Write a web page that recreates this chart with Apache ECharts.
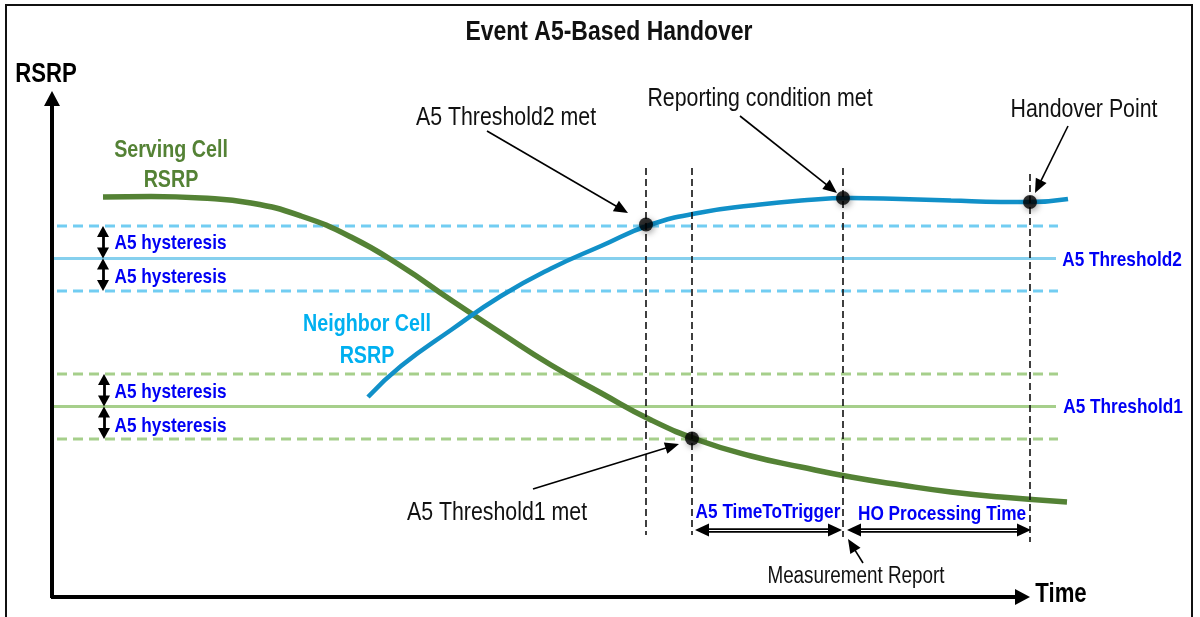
<!DOCTYPE html>
<html><head><meta charset="utf-8">
<script src="https://cdn.jsdelivr.net/npm/echarts@6/dist/echarts.min.js"></script>
<style>html,body{margin:0;padding:0;background:#fff}#c{width:1200px;height:617px}</style>
</head><body><div id="c"></div>
<script>
// ---- data (time / RSRP in arbitrary diagram units) ----
const servingX = [5.2, 10, 15, 20, 25, 30, 35, 40, 45, 50, 55, 60, 65, 70, 75, 80, 85, 90, 95, 101.6];
const servingY = [80.2, 80.3, 80.0, 79.0, 76.4, 72.2, 66.4, 59.6, 53.0, 46.6, 41.0, 35.6, 31.4, 28.4, 26.2, 24.2, 22.6, 21.2, 20.2, 19.2];
const neighborX = [31.7, 35, 40, 45, 50, 55, 60, 65, 70, 75, 80, 85, 90, 95, 97.9, 101.7];
const neighborY = [40.2, 46.4, 53.6, 60.4, 65.9, 70.4, 74.7, 77.1, 78.5, 79.5, 80.0, 79.8, 79.5, 79.2, 79.2, 79.8];
const threshold2 = 67.9;
const threshold1 = 38.3;
const hysteresis = 6.5;
const eventX = [59.5, 64.1, 79.2, 97.9];          // Thr2 met, Thr1 met, report, handover
const eventY = [74.7, 31.9, 80.0, 79.2];
const eventTop = [86.0, 86.0, 86.0, 84.8];
const eventBottom = [12.6, 12.6, 12.2, 11.2];
const thresholdEnd = 100.5;
const spanY = 13.6;
const spanTTT = [64.4, 79.1];
const spanHO = [79.6, 98.0];
const notes = ['A5 Threshold2 met', 'Reporting condition met', 'Handover Point', 'A5 Threshold1 met', 'Measurement Report'];
const noteAt = [[45.5, 96.0], [70.9, 99.8], [103.3, 97.6], [44.6, 17.0], [80.5, 4.2]];
const noteFrom = [[43.6, 93.4], [68.9, 96.4], [101.7, 94.4], [48.2, 21.8], [81.2, 7.0]];
const noteTo = [[57.7, 77.0], [78.6, 81.0], [98.4, 81.0], [62.8, 30.8], [79.7, 11.8]];
const hystLabelY = [71.0, 64.2, 41.2, 34.4];

const FONT = "'Liberation Sans', Arial, sans-serif";
const NARROW = 0.82;
const BLUE = '#0000f5';
const chart = echarts.init(document.getElementById('c'));
const pts = (xs, ys) => xs.map((x, i) => [x, ys[i]]);

chart.setOption({
  animation: false,
  grid: { left: 51, top: 48, width: 1100, height: 550 },
  xAxis: { type: 'value', min: 0, max: 110, show: false },
  yAxis: { type: 'value', min: 0, max: 110, show: false },
  series: []
});
const toPx = p => chart.convertToPixel({ gridIndex: 0 }, p);
const fromPx = p => chart.convertFromPixel({ gridIndex: 0 }, p);

// segment whose arrow tips land exactly on the given points
function arrowSeg(a, b, startSym, endSym, size, style) {
  const pa = toPx(a), pb = toPx(b);
  const dx = pb[0] - pa[0], dy = pb[1] - pa[1];
  const L = Math.hypot(dx, dy), ux = dx / L, uy = dy / L, h = size[1] / 2;
  const qa = startSym === 'none' ? pa : [pa[0] + ux * h, pa[1] + uy * h];
  const qb = endSym === 'none' ? pb : [pb[0] - ux * h, pb[1] - uy * h];
  return [
    { coord: fromPx(qa), symbol: startSym, symbolSize: size, lineStyle: style },
    { coord: fromPx(qb), symbol: endSym, symbolSize: size }
  ];
}

const thrLines = [
  { y: threshold2 + hysteresis, c: '#72cdf2', d: true },
  { y: threshold2, c: '#86d0ee', d: false },
  { y: threshold2 - hysteresis, c: '#72cdf2', d: true },
  { y: threshold1 + hysteresis, c: '#a6cf8b', d: true },
  { y: threshold1, c: '#a6cf8b', d: false },
  { y: threshold1 - hysteresis, c: '#a6cf8b', d: true }
];
const series = [];
thrLines.forEach(t => series.push({
  type: 'line', silent: true, symbol: 'none', z: 1,
  data: [[t.d ? 0.6 : 0, t.y], [t.d ? thresholdEnd + 0.2 : thresholdEnd, t.y]],
  lineStyle: { color: t.c, width: 3, type: t.d ? [10, 6] : 'solid' }
}));

// vertical event lines
series.push({
  type: 'line', data: [], silent: true, z: 2,
  markLine: {
    silent: true, symbol: 'none', label: { show: false },
    lineStyle: { color: '#111', width: 1.6, type: [7, 4] },
    data: eventX.map((x, i) => [{ coord: [x, eventTop[i]] }, { coord: [x, eventBottom[i]] }])
  }
});

series.push({
  type: 'line', name: 'Serving Cell RSRP', data: pts(servingX, servingY), smooth: 0.5,
  symbol: 'none', clip: false, z: 3, lineStyle: { color: '#548235', width: 5.5 }
});
series.push({
  type: 'line', name: 'Neighbor Cell RSRP', data: pts(neighborX, neighborY), smooth: 0.5,
  symbol: 'none', clip: false, z: 3, lineStyle: { color: '#1190c8', width: 4.5 }
});

// arrows (axes, hysteresis, spans, notes)
const black = w => ({ color: '#000', width: w, type: 'solid' });
const arrows = [];
arrows.push(arrowSeg([0.1, 0], [0.1, 101.4], 'none', 'triangle', [16, 15], black(4)));
arrows.push(arrowSeg([0, 0.2], [97.9, 0.2], 'none', 'triangle', [16, 15], black(4)));
[[5.2, threshold2], [5.3, threshold1]].forEach(([x, y]) => {
  arrows.push(arrowSeg([x, y + hysteresis], [x, y], 'triangle', 'triangle', [12, 11], black(2.8)));
  arrows.push(arrowSeg([x, y], [x, y - hysteresis], 'triangle', 'triangle', [12, 11], black(2.8)));
});
[spanTTT, spanHO].forEach(s => {
  arrows.push(arrowSeg([s[0], spanY], [s[1], spanY], 'triangle', 'triangle', [13, 14], black(4.5)));
});
noteFrom.forEach((f, i) => arrows.push(arrowSeg(f, noteTo[i], 'none', 'triangle', [12, 14], black(1.6))));
series.push({
  type: 'line', data: [], silent: true, z: 4,
  markLine: { silent: true, label: { show: false }, data: arrows }
});
// white core of the double-line span arrows
series.push({
  type: 'line', data: [], silent: true, z: 4.5,
  markLine: {
    silent: true, symbol: 'none', label: { show: false },
    lineStyle: { color: '#fff', width: 1.2, type: 'solid' },
    data: [spanTTT, spanHO].map(s => [{ coord: [s[0] + 1.4, spanY] }, { coord: [s[1] - 1.4, spanY] }])
  }
});

// event dots
series.push({
  type: 'scatter', data: pts(eventX, eventY), symbolSize: 14, z: 6, silent: true,
  itemStyle: { color: '#000', shadowBlur: 6, shadowColor: 'rgba(0,0,0,0.45)', shadowOffsetX: 1.5, shadowOffsetY: 2 }
});

// narrow text (Arial-metric font squeezed horizontally)
function gtext(text, px, py, size, weight, color, lh) {
  return {
    type: 'text', silent: true, x: px, y: py, scaleX: NARROW, z: 100,
    style: { text: text, x: 0, y: 0, align: 'center', verticalAlign: 'middle', fontFamily: FONT,
             fontSize: size, fontWeight: weight, fill: color, lineHeight: lh || Math.round(size * 1.2) }
  };
}
function ctext(text, at, size, weight, color, lh) {
  const p = toPx(at);
  return gtext(text, p[0], p[1], size, weight, color, lh);
}
const graphics = [
  { type: 'rect', silent: true, shape: { x: 6, y: 5, width: 1186, height: 640 },
    style: { fill: 'none', stroke: '#111', lineWidth: 2 } },
  gtext('Event A5-Based Handover', 609, 32, 28, 'bold', '#111'),
  gtext('RSRP', 46, 75, 27, 'bold', '#000'),
  gtext('Time', 1061, 595, 27, 'bold', '#000')
];
notes.forEach((t, i) => graphics.push(ctext(t, noteAt[i], i === 4 ? 23 : 26, 'normal', '#111')));
hystLabelY.forEach(y => graphics.push(ctext('A5 hysteresis', [11.95, y], 21, 'bold', BLUE)));
graphics.push(ctext('A5 Threshold2', [107.1, threshold2 - 0.3], 21, 'bold', BLUE));
graphics.push(ctext('A5 Threshold1', [107.2, threshold1 - 0.1], 21, 'bold', BLUE));
graphics.push(ctext('A5 TimeToTrigger', [71.7, 17.2], 21, 'bold', BLUE));
graphics.push(ctext('HO Processing Time', [89.1, 16.8], 21, 'bold', BLUE));
graphics.push(ctext('Serving Cell\nRSRP', [12.0, 86.6], 24, 'bold', '#548235', 30));
graphics.push(ctext('Neighbor Cell\nRSRP', [31.6, 51.6], 24, 'bold', '#00b0f0', 32));

chart.setOption({ series: series, graphic: graphics });
</script></body></html>
